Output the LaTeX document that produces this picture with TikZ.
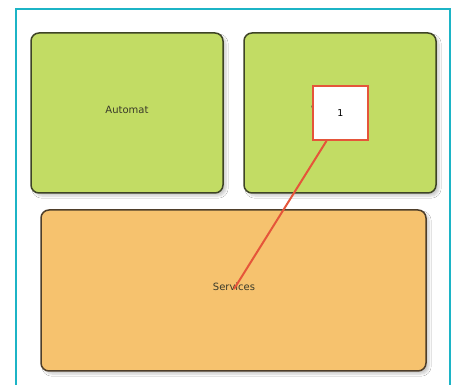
\documentclass[tikz,border=0pt]{standalone}
\usepackage{fontspec}
\setmainfont{DejaVu Sans}
\usetikzlibrary{shadows.blur}
\definecolor{frame}{HTML}{1CB4C6}
\definecolor{greenfill}{HTML}{C2DC64}
\definecolor{greenline}{HTML}{3E4426}
\definecolor{orangefill}{HTML}{F6C26E}
\definecolor{orangeline}{HTML}{4E3E2A}
\definecolor{redline}{HTML}{E5553A}
\definecolor{txt}{HTML}{3A3A2A}
\tikzset{
  blockbox/.style={draw=greenline, line width=1.5pt, rounded corners=8pt, fill=greenfill,
    blur shadow={shadow xshift=3pt, shadow yshift=-3pt, shadow blur steps=6, shadow opacity=20},
    inner sep=0pt, text=txt},
  lbl/.style={font=\fontsize{10}{12}\selectfont, text=txt, inner sep=0pt},
  servbox/.style={blockbox, draw=orangeline, fill=orangefill},
  numbox/.style={draw=redline, line width=1.8pt, fill=white, inner sep=0pt,
    minimum width=55pt, minimum height=54pt, font=\rmfamily\fontsize{9.5}{11}\selectfont},
  link/.style={draw=redline, line width=2pt}
}
\begin{document}
\begin{tikzpicture}[x=1pt,y=-1pt]
\useasboundingbox (0,0) rectangle (456,385);
\fill[white] (0,0) rectangle (456,385);
\draw[frame, line width=1.2pt] (16,386) -- (16,9) -- (450,9) -- (450,386);
\node[blockbox, minimum width=192pt, minimum height=160pt] (automat) at (127,113) {};
\node[lbl] (automatlbl) at (127,110) {Automat};
\node[blockbox, minimum width=192pt, minimum height=160pt] (webservice) at (340,113) {};
\node[lbl] (webservicelbl) at (340,110) {Webservice};
\node[servbox, minimum width=385pt, minimum height=161pt] (services) at (233.5,290.5) {};
\node[lbl] (serviceslbl) at (234,287) {Services};
\node[numbox] (one) at (340.5,113) {1};
\coordinate (lineend) at (234,289);
\draw[link] ([xshift=-14pt]one.south) -- (lineend);
\end{tikzpicture}
\end{document}
